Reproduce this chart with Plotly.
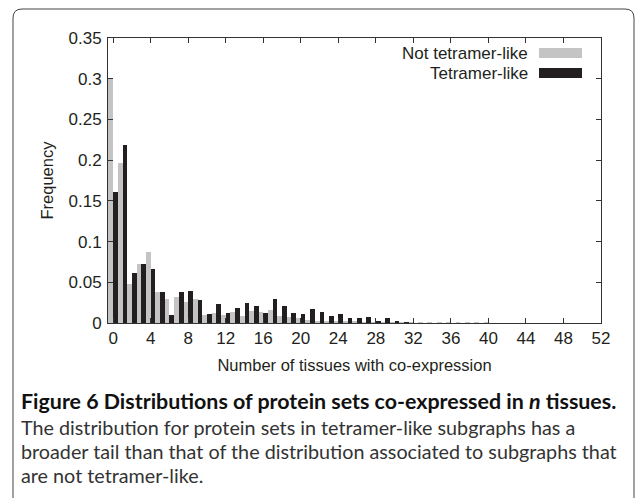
import plotly.graph_objects as go

tissues = list(range(0, 41))
not_tetramer = [0.300, 0.197, 0.048, 0.073, 0.087, 0.038, 0.029, 0.032, 0.026, 0.029,
                0.010, 0.012, 0.010, 0.013, 0.009, 0.015, 0.014, 0.016, 0.009, 0.007,
                0.006, 0.004, 0.003, 0.0025, 0.0025, 0.0016, 0.0015, 0.001, 0.001, 0.0008,
                0.0006, 0.0005, 0.0004, 0.0004, 0.0003, 0.0003, 0.0002, 0.0002, 0.0002, 0.0001, 0.0001]
tetramer = [0.161, 0.219, 0.062, 0.073, 0.066, 0.038, 0.010, 0.038, 0.039, 0.028,
            0.011, 0.023, 0.012, 0.018, 0.024, 0.021, 0.012, 0.030, 0.021, 0.012,
            0.011, 0.017, 0.0135, 0.0086, 0.011, 0.006, 0.0057, 0.0078, 0.0025, 0.006,
            0.0025, 0.001, 0, 0, 0, 0, 0, 0, 0, 0, 0]
x_ticks = list(range(0, 53, 4))
y_ticks = [0, 0.05, 0.1, 0.15, 0.2, 0.25, 0.3, 0.35]
series_names = ["Not tetramer-like", "Tetramer-like"]
caption_title = "<b>Figure 6 Distributions of protein sets co-expressed in <i>n</i> tissues.</b>"
caption_lines = [
    "The distribution for protein sets in tetramer-like subgraphs has a",
    "broader tail than that of the distribution associated to subgraphs that",
    "are not tetramer-like.",
]

GREY = "#c4c4c4"
BLACK = "#231f20"
TXT = "#231f20"
W, H = 636, 498
L, R, T, B = 108, 35, 38, 175
pw, ph = W - L - R, H - T - B

def px(xp):
    return (xp - L) / pw

def py(yp):
    return (H - B - yp) / ph

fig = go.Figure()
fig.add_trace(go.Bar(x=tissues, y=not_tetramer, name=series_names[0],
                     marker=dict(color=GREY, line=dict(width=0)), showlegend=False))
fig.add_trace(go.Bar(x=tissues, y=tetramer, name=series_names[1],
                     marker=dict(color=BLACK, line=dict(width=0)), showlegend=False))

axis_common = dict(showline=True, linecolor="#333333", linewidth=1, mirror="ticks",
                   ticks="inside", ticklen=5, tickcolor="#333333", showgrid=False,
                   zeroline=False, tickfont=dict(family="Liberation Sans", size=17, color=TXT))

fig.update_xaxes(range=[-0.55, 52], tickvals=x_ticks,
                 title=dict(text="Number of tissues with co-expression", standoff=12,
                            font=dict(family="Liberation Sans", size=16.5, color=TXT)),
                 **axis_common)
fig.update_yaxes(range=[0, 0.35], tickvals=y_ticks, ticklabelstandoff=2,
                 title=dict(text="Frequency", standoff=10,
                            font=dict(family="Liberation Sans", size=16.5, color=TXT)),
                 **axis_common)

annotations = []
# legend
annotations.append(dict(x=px(530), y=py(53), xref="paper", yref="paper", text=series_names[0],
                        showarrow=False, xanchor="right", yanchor="middle",
                        font=dict(family="Liberation Sans", size=17, color=TXT)))
annotations.append(dict(x=px(530), y=py(73), xref="paper", yref="paper", text=series_names[1],
                        showarrow=False, xanchor="right", yanchor="middle",
                        font=dict(family="Liberation Sans", size=17, color=TXT)))
shapes = [
    dict(type="rect", xref="paper", yref="paper", x0=px(539), x1=px(582), y0=py(58), y1=py(48),
         fillcolor=GREY, line=dict(width=0)),
    dict(type="rect", xref="paper", yref="paper", x0=px(539), x1=px(582), y0=py(78), y1=py(68),
         fillcolor=BLACK, line=dict(width=0)),
]
# border with rounded top corners
x0b, x1b, y0b, r = 13, 634, 9, 9
path = (f"M {px(x0b)} {py(510)} L {px(x0b)} {py(y0b + r)} "
        f"Q {px(x0b)} {py(y0b)} {px(x0b + r)} {py(y0b)} "
        f"L {px(x1b - r)} {py(y0b)} Q {px(x1b)} {py(y0b)} {px(x1b)} {py(y0b + r)} "
        f"L {px(x1b)} {py(510)}")
shapes.append(dict(type="path", xref="paper", yref="paper", path=path,
                   line=dict(color="#444444", width=1)))

# caption
annotations.append(dict(x=px(19), y=py(401), xref="paper", yref="paper", text=caption_title,
                        showarrow=False, xanchor="left", yanchor="middle",
                        font=dict(family="Lato", size=21.4, color="#111")))
for i, line in enumerate(caption_lines):
    annotations.append(dict(x=px(19), y=py(427 + 24.5 * i), xref="paper", yref="paper", text=line,
                            showarrow=False, xanchor="left", yanchor="middle",
                            font=dict(family="Lato", size=19.75, color="#333")))

fig.update_layout(width=W, height=H, margin=dict(l=L, r=R, t=T, b=B),
                  barmode="group", bargap=0, bargroupgap=0,
                  plot_bgcolor="white", paper_bgcolor="white",
                  annotations=annotations, shapes=shapes)

fig.write_html("out.html", config={"displayModeBar": False},
               post_script="document.body.style.margin='0px';document.body.style.overflow='hidden';")
